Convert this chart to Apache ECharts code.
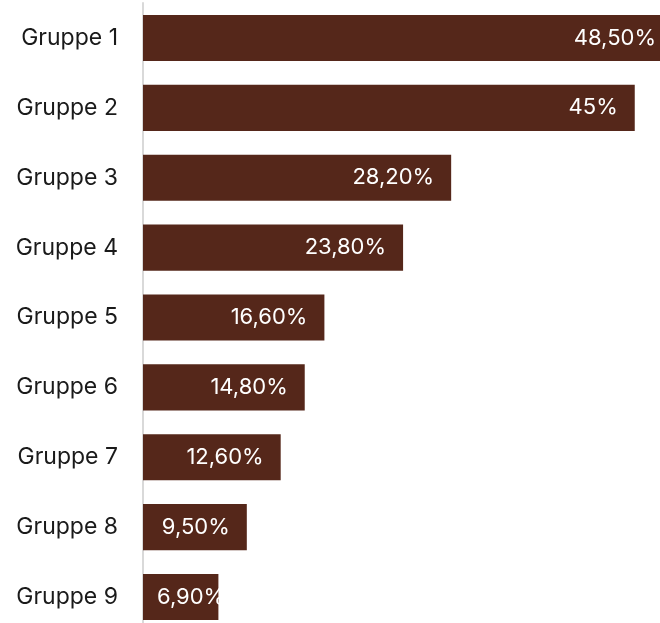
<!DOCTYPE html>
<html><head><meta charset="utf-8">
<script src="https://cdn.jsdelivr.net/npm/echarts@6/dist/echarts.min.js"></script>
<style>html,body{margin:0;padding:0;background:#fff;overflow:hidden}#c{width:673px;height:632px}</style>
</head><body><div id="c"></div>
<script>
const categories = ['Gruppe 1','Gruppe 2','Gruppe 3','Gruppe 4','Gruppe 5','Gruppe 6','Gruppe 7','Gruppe 8','Gruppe 9'];
const values = [48.5, 45, 28.2, 23.8, 16.6, 14.8, 12.6, 9.5, 6.9];
function fmt(v){ return (Number.isInteger(v) ? String(v) : v.toFixed(2).replace('.', ',')) + '%'; }
const chart = echarts.init(document.getElementById('c'));
chart.setOption({
  animation:false,
  grid:{left:143, right:0, top:3, bottom:0, containLabel:false},
  xAxis:{type:'value', min:0, max:48.5, show:false},
  yAxis:{type:'category', data:categories, inverse:true,
    axisLine:{show:true, lineStyle:{color:'#d9d9d9', width:2}},
    axisTick:{show:false},
    axisLabel:{margin:25, color:'#1a1a1a', fontSize:23, fontFamily:'Inter'}},
  series:[{type:'bar', barCategoryGap:'34%',
    data: values.map(v => v < 8 ? {value:v, label:{position:'insideLeft', distance:14}} : v),
    itemStyle:{color:'#55271a'},
    label:{show:true, position:'insideRight', distance:17, color:'#fff', fontSize:22, fontFamily:'Inter',
      formatter:p=>fmt(p.value)}}]
});
</script></body></html>
